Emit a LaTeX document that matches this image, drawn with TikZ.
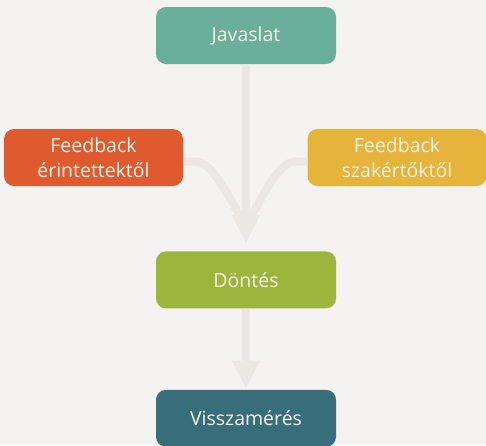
\documentclass[tikz,border=0pt]{standalone}
\usepackage{fontspec}
\setmainfont{Open Sans}
\usetikzlibrary{arrows.meta,positioning}

\definecolor{bgcol}{HTML}{F4F3F1}
\definecolor{flowcol}{HTML}{EAE7E4}
\definecolor{txtcol}{HTML}{F6F1E7}
\definecolor{javcol}{HTML}{6AAF9A}
\definecolor{erintcol}{HTML}{E05A30}
\definecolor{szakcol}{HTML}{E7B43B}
\definecolor{dontcol}{HTML}{9DB53D}
\definecolor{visszcol}{HTML}{386D7A}

\begin{document}
\begin{tikzpicture}[x=1pt, y=-1pt, node distance=187pt,
                    main node/.style={rectangle, rounded corners=10pt, inner sep=0pt,
                      minimum width=180pt, minimum height=57pt, align=center,
                      text=txtcol, font=\fontsize{19.5}{25}\selectfont},
                    flow/.style={draw=flowcol, line width=8pt},
                    tip/.style={-{Triangle[width=26pt,length=28pt,fill=flowcol]}}]

  \fill[bgcol] (0,0) rectangle (486,445);
  \useasboundingbox (0,0) rectangle (486,445);

  \node[main node, fill=javcol] (jav) at (246,35.5) {Javaslat};
  \node[main node, fill=dontcol] (dont) [below=of jav] {Döntés};
  \node[main node, fill=visszcol] (vissz) [below=81pt of dont] {Visszamérés};
  \node[main node, fill=erintcol, minimum width=179pt] (erint) at (93.5,157.5) {Feedback\\érintettektől};
  \node[main node, fill=szakcol, minimum width=179pt] (szak) at (397,157.5) {Feedback\\szakértőktől};

  \coordinate (merge) at (246,216);

  % side feedback flows joining the main line
  \draw[flow] ([yshift=-4pt]erint.east) -- ++(12,0) to[out=0, in=-90, looseness=0.85] (merge);
  \draw[flow] ([yshift=-4pt]szak.west) -- ++(-12,0) to[out=180, in=-90, looseness=0.85] (merge);

  \draw[flow, tip, shorten >=8pt] (jav.south) -- (dont.north);
  \draw[flow, tip, shorten >=1pt] (dont.south) -- (vissz.north);

\end{tikzpicture}
\end{document}
